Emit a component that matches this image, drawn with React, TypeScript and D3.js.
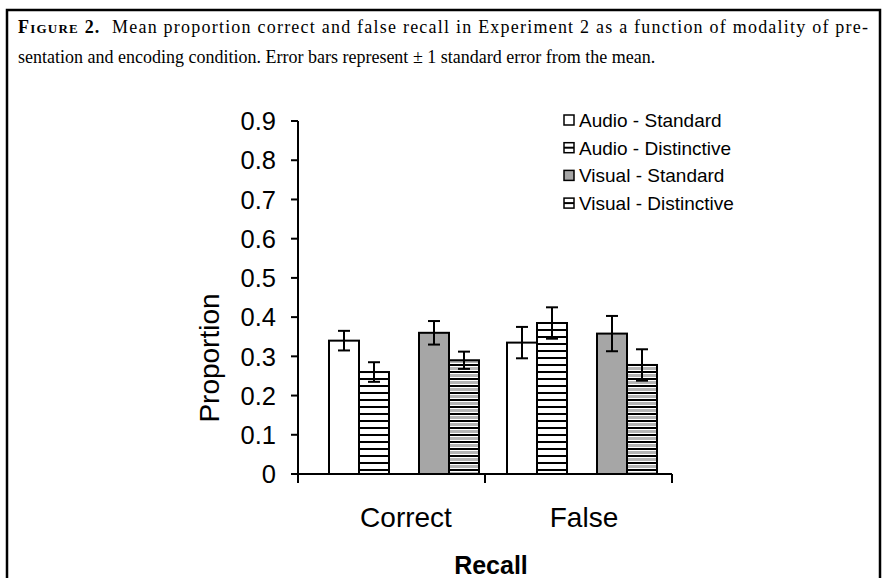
import * as d3 from "d3";

const categories = ["Correct", "False"];
const series = ["Audio - Standard", "Audio - Distinctive", "Visual - Standard", "Visual - Distinctive"];
// means per series, in category order
const means = [
  [0.34, 0.335],
  [0.26, 0.385],
  [0.36, 0.358],
  [0.29, 0.278],
];
const errors = [
  [0.025, 0.04],
  [0.025, 0.04],
  [0.03, 0.045],
  [0.022, 0.04],
];
const yTicks = [0, 0.1, 0.2, 0.3, 0.4, 0.5, 0.6, 0.7, 0.8, 0.9];
// slot order inside a group, with an empty slot between audio and visual
const slots = ["Audio - Standard", "Audio - Distinctive", "gap", "Visual - Standard", "Visual - Distinctive"];

const W = 887;
const H = 578;
const AX = 298;
const AX_END = 672;
const BASE = 474;
const SANS = "'Liberation Sans', Arial, sans-serif";
const SERIF = "'Liberation Serif', 'Times New Roman', serif";

const fills = ["#ffffff", "url(#stripeWhite)", "#a6a6a6", "url(#stripeGray)"];

export default function App() {
  const y = d3.scaleLinear().domain([0, 0.9]).range([BASE, BASE - 0.9 * 392.2]);
  // groups are 150px wide, 178px apart
  const x0 = d3.scaleBand<string>().domain(categories).range([AX + 31, AX + 31 + 356]);
  const x1 = d3.scaleBand<string>().domain(slots).range([0, 150]);
  const bw = x1.bandwidth();
  const mid = (AX + AX_END) / 2;

  return (
    <svg
      width={W}
      height={H}
      style={{ position: "absolute", left: 0, top: 0, background: "#fff" }}
    >
      <defs>
        <pattern id="stripeWhite" width="8" height="7" patternUnits="userSpaceOnUse">
          <rect width="8" height="7" fill="#fff" />
          <rect y="0" width="8" height="2" fill="#000" />
        </pattern>
        <pattern id="stripeGray" width="8" height="7" patternUnits="userSpaceOnUse">
          <rect width="8" height="7" fill="#fff" />
          <rect y="0" width="8" height="2" fill="#000" />
          <rect y="3" width="8" height="3" fill="#b4b4b4" />
        </pattern>
      </defs>

      {/* figure frame */}
      <rect x={7} y={10} width={873} height={600} fill="none" stroke="#000" strokeWidth={2.5} />

      {/* caption */}
      <text x={18} y={33} fontFamily={SERIF} fontSize={18} textLength={850} lengthAdjust="spacing">
        <tspan fontWeight="bold" style={{ fontVariant: "small-caps" }}>Figure 2.</tspan>
        <tspan>{"\u00a0 Mean proportion correct and false recall in Experiment 2 as a function of modality of pre-"}</tspan>
      </text>
      <text x={18} y={63} fontFamily={SERIF} fontSize={18}>
        sentation and encoding condition. Error bars represent ± 1 standard error from the mean.
      </text>

      {/* y axis */}
      <line x1={AX} x2={AX} y1={y(0.9)} y2={BASE + 9} stroke="#000" strokeWidth={2} />
      {yTicks.map((t) => (
        <g key={t}>
          <line x1={AX - 7} x2={AX} y1={y(t)} y2={y(t)} stroke="#000" strokeWidth={2} />
          <text
            x={AX - 22}
            y={y(t)}
            dy="0.36em"
            textAnchor="end"
            fontFamily={SANS}
            fontSize={25.5}
          >
            {t === 0 ? "0" : t.toFixed(1)}
          </text>
        </g>
      ))}
      <text
        transform={`translate(219, ${358}) rotate(-90)`}
        textAnchor="middle"
        fontFamily={SANS}
        fontSize={28}
      >
        Proportion
      </text>

      {/* bars */}
      {categories.map((c, ci) => (
        <g key={c} transform={`translate(${x0(c)}, 0)`}>
          {series.map((s, si) => {
            const v = means[si][ci];
            const e = errors[si][ci];
            const bx = x1(s) as number;
            const cx = bx + bw / 2;
            return (
              <g key={s}>
                <rect
                  x={bx}
                  y={y(v)}
                  width={bw}
                  height={BASE - y(v)}
                  fill={fills[si]}
                  stroke="#000"
                  strokeWidth={2}
                />
                <line x1={cx} x2={cx} y1={y(v + e)} y2={y(v - e)} stroke="#000" strokeWidth={2} />
                <line x1={cx - 6} x2={cx + 6} y1={y(v + e)} y2={y(v + e)} stroke="#000" strokeWidth={2} />
                <line x1={cx - 6} x2={cx + 6} y1={y(v - e)} y2={y(v - e)} stroke="#000" strokeWidth={2} />
              </g>
            );
          })}
        </g>
      ))}

      {/* x axis */}
      <line x1={AX} x2={AX_END} y1={BASE} y2={BASE} stroke="#000" strokeWidth={2} />
      {[mid, AX_END].map((tx) => (
        <line key={tx} x1={tx} x2={tx} y1={BASE} y2={BASE + 9} stroke="#000" strokeWidth={2} />
      ))}
      {categories.map((c) => (
        <text
          key={c}
          x={(x0(c) as number) + 77}
          y={527}
          textAnchor="middle"
          fontFamily={SANS}
          fontSize={28}
        >
          {c}
        </text>
      ))}
      <text x={491} y={574} textAnchor="middle" fontFamily={SANS} fontSize={25} fontWeight="bold">
        Recall
      </text>

      {/* legend */}
      {series.map((s, si) => {
        const ly = 120 + si * 27.7;
        return (
          <g key={s}>
            <rect x={564} y={ly - 5} width={10} height={10} fill={si === 2 ? "#a6a6a6" : "#fff"} stroke="#000" strokeWidth={1.5} />
            {(si === 1 || si === 3) && (
              <line x1={564} x2={574} y1={ly} y2={ly} stroke="#000" strokeWidth={2} />
            )}
            <text x={579} y={ly} dy="0.36em" fontFamily={SANS} fontSize={19}>
              {s}
            </text>
          </g>
        );
      })}
    </svg>
  );
}
